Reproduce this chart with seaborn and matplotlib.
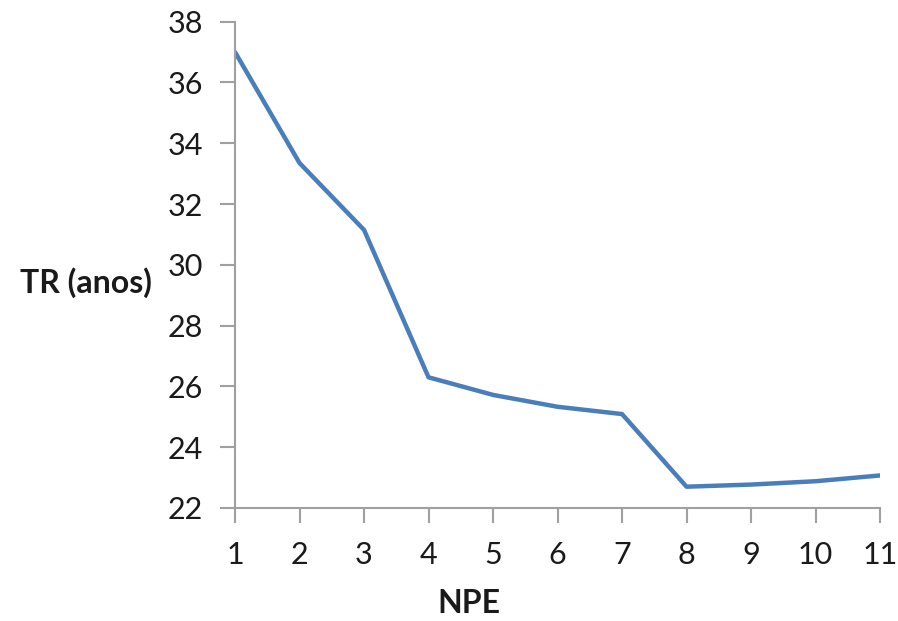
import matplotlib
matplotlib.use("Agg")
import matplotlib.pyplot as plt
import seaborn as sns
import pandas as pd

# values
npe = [1, 2, 3, 4, 5, 6, 7, 8, 9, 10, 11]
tr_anos = [37.0, 33.35, 31.15, 26.3, 25.72, 25.33, 25.09, 22.7, 22.77, 22.88, 23.07]
y_ticks = [22, 24, 26, 28, 30, 32, 34, 36, 38]

data = pd.DataFrame({"NPE": npe, "TR (anos)": tr_anos})

sns.set_style("white")
plt.rcParams["font.family"] = ["Lato", "DejaVu Sans"]

fig = plt.figure(figsize=(8.98, 6.21), dpi=100)
ax = fig.add_axes([0.2617, 0.182, 0.7183, 0.7831])

sns.lineplot(x="NPE", y="TR (anos)", data=data, ax=ax, color="#4A7EBB", linewidth=3.2)

ax.set_xlim(1, 11)
ax.set_ylim(22, 38)
ax.set_xticks(npe)
ax.set_yticks(y_ticks)

# excel-like axes: only left and bottom, grey, ticks outside
for side in ["top", "right"]:
    ax.spines[side].set_visible(False)
for side in ["left", "bottom"]:
    ax.spines[side].set_color("#A0A0A0")
    ax.spines[side].set_linewidth(1.5)
ax.tick_params(axis="both", direction="out", length=11, width=1.5, color="#A0A0A0",
               labelsize=22, labelcolor="#1a1a1a", bottom=True, left=True)
ax.tick_params(axis="x", pad=13)
ax.tick_params(axis="y", pad=12)

ax.set_xlabel("NPE", fontsize=23, fontweight="bold", color="#1a1a1a", va="center")
ax.xaxis.set_label_coords(0.362, -0.196)
ax.set_ylabel("TR (anos)", fontsize=23, fontweight="bold", color="#1a1a1a",
              rotation=0, ha="right", va="center")
ax.yaxis.set_label_coords(-0.129, 0.463)

plt.savefig("out.png", dpi=100)
